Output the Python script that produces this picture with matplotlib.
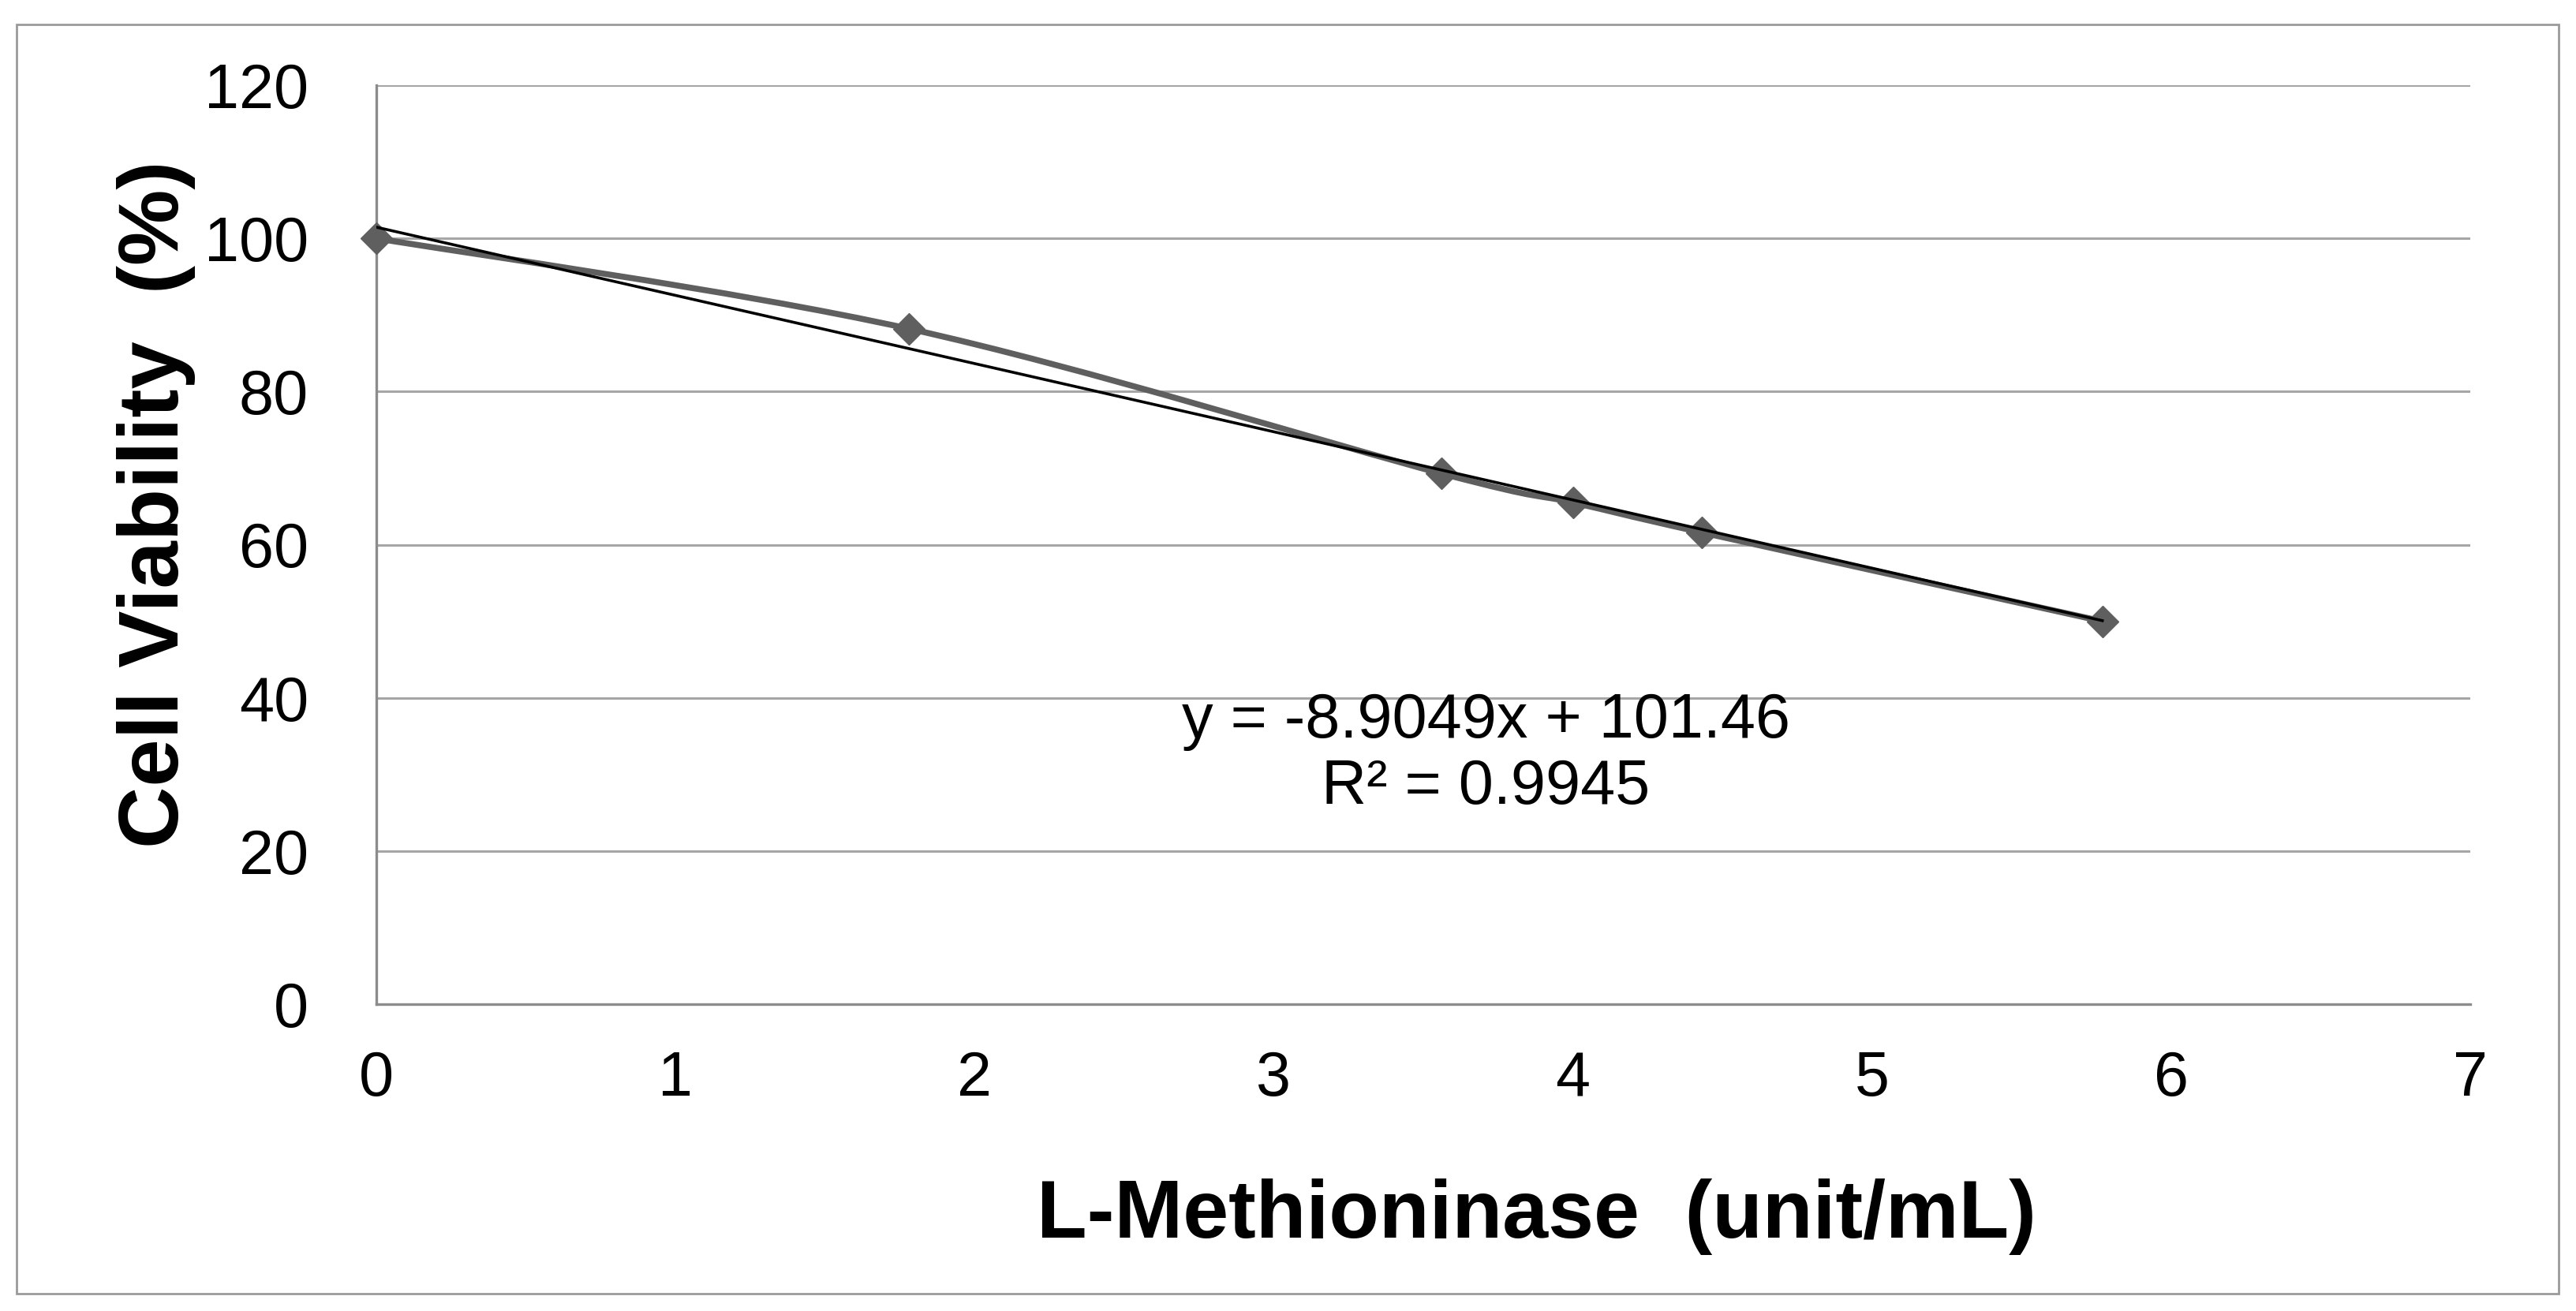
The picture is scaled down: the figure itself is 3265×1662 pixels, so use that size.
"""Cell viability vs L-methioninase dose, with linear trendline."""

import matplotlib
matplotlib.use("Agg")
import matplotlib.pyplot as plt
from matplotlib.path import Path
from matplotlib.patches import PathPatch, Rectangle
import numpy as np

# ── data ────────────────────────────────────────────────────────────────
dose = [0.0, 1.78, 3.56, 4.0, 4.43, 5.77]          # unit/mL
viability = [100.0, 88.2, 69.3, 65.5, 61.6, 50.0]  # %
slope, intercept = -8.9049, 101.46
r_squared = 0.9945
x_ticks = [0, 1, 2, 3, 4, 5, 6, 7]
y_ticks = [0, 20, 40, 60, 80, 100, 120]

plt.rcParams["font.family"] = ["Liberation Sans", "DejaVu Sans"]

W, H, DPI = 3266, 1662, 100
fig = plt.figure(figsize=(W / DPI, H / DPI), dpi=DPI)
ax = fig.add_axes([477 / W, 1 - 1273 / H, (3131 - 477) / W, (1273 - 108) / H])

# outer chart border
fig.patches.append(Rectangle((21 / W, 1 - 1640 / H), (3243 - 21) / W, (1640 - 31) / H,
                             transform=fig.transFigure, fill=False,
                             edgecolor="#9a9a9a", linewidth=2))


def smooth_path(xs, ys, tension=1 / 6):
    """Excel-style smoothed line: Catmull-Rom segments as cubic Beziers."""
    pts = np.column_stack([xs, ys])
    verts = [pts[0]]
    codes = [Path.MOVETO]
    n = len(pts)
    for i in range(n - 1):
        p0 = pts[max(i - 1, 0)]
        p1 = pts[i]
        p2 = pts[i + 1]
        p3 = pts[min(i + 2, n - 1)]
        c1 = p1 + (p2 - p0) * tension
        c2 = p2 - (p3 - p1) * tension
        verts += [c1, c2, p2]
        codes += [Path.CURVE4] * 3
    return Path(verts, codes)


series_color = "#5f5f5f"
ax.add_patch(PathPatch(smooth_path(dose, viability), facecolor="none",
                       edgecolor=series_color, linewidth=5.5, zorder=3))
ax.plot(dose, viability, linestyle="none", marker="D", markersize=20,
        color=series_color, zorder=4, clip_on=False)

# linear trendline
tx = np.array([dose[0], dose[-1]])
ax.plot(tx, slope * tx + intercept, color="black", linewidth=2.6, zorder=5)

ax.text(3.71, 32.6, f"y = {slope}x + {intercept}\nR² = {r_squared}",
        ha="center", va="center", fontsize=57, linespacing=1.15, zorder=6)

ax.set_xlim(0, 7)
ax.set_ylim(0, 120)
ax.set_xticks(x_ticks)
ax.set_yticks(y_ticks)
ax.tick_params(axis="y", length=0, labelsize=57, pad=62)
ax.tick_params(axis="x", length=0, labelsize=57, pad=42)
ax.grid(axis="y", color="#a6a6a6", linewidth=2.2)
ax.set_axisbelow(True)
for side in ("top", "right"):
    ax.spines[side].set_visible(False)
for side in ("left", "bottom"):
    ax.spines[side].set_color("#8c8c8c")
    ax.spines[side].set_linewidth(2.4)

ax.set_xlabel("L-Methioninase  (unit/mL)", fontsize=75, fontweight="bold", va="center")
ax.set_ylabel("Cell Viability  (%)", fontsize=78, fontweight="bold", va="center")
ax.xaxis.set_label_coords(0.554, -0.231)
ax.yaxis.set_label_coords(-0.105, 0.544)

fig.savefig("out.png", dpi=DPI)
